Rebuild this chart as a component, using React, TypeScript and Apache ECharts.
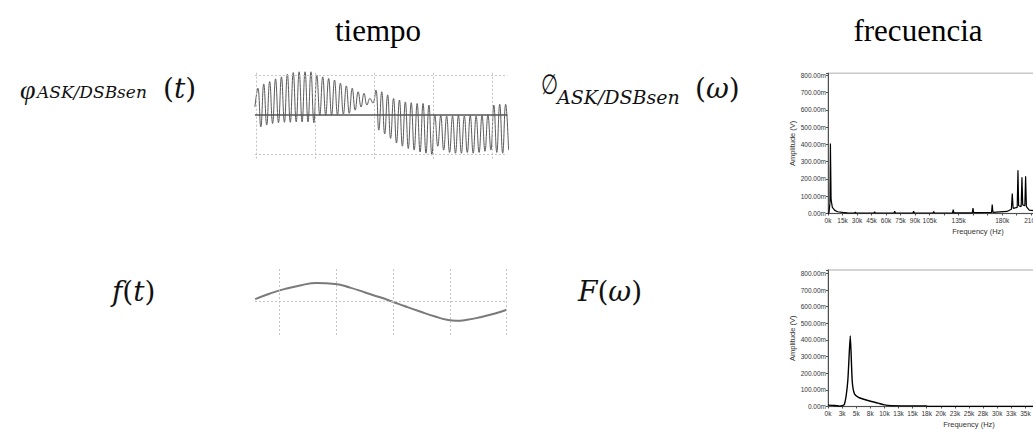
import React, { useEffect, useRef } from 'react';
import * as echarts from 'echarts';

// ---- time domain: modulated signal (one peak + one trough per carrier cycle, 10 cycles per division)
const CYCLES_PER_DIV = 10;
const askStart = 0.2;
const askPeaks = [
  0.68, 0.79, 0.85, 0.92, 0.97, 1.04, 1.08, 1.1, 1.1, 1.1,
  1.02, 0.97, 0.93, 0.89, 0.81, 0.74, 0.68, 0.59, 0.55, 0.42,
  0.63, 0.59, 0.51, 0.42, 0.38, 0.33, 0.31, 0.29, 0.29, 0.25,
  0.0, -0.02, -0.03, -0.03, -0.02, -0.03, -0.02, -0.03, -0.02, 0.0,
  0.25, 0.27, 0.27,
];
const askTroughs = [
  -0.31, -0.26, -0.22, -0.2, -0.19, -0.19, -0.18, -0.18, -0.18, -0.2,
  -0.01, -0.01, -0.01, 0.0, 0.02, 0.04, 0.12, 0.2, 0.25, 0.3,
  -0.39, -0.49, -0.6, -0.72, -0.8, -0.86, -0.9, -0.95, -0.98, -1.03,
  -0.8, -0.9, -0.96, -0.98, -0.98, -0.96, -0.98, -0.96, -0.93, -0.9,
  -0.96, -0.98, -0.9,
];

// ---- time domain: message f(t)
const msgT = [-0.427, -0.164, 0.1, 0.364, 0.658, 0.98, 1.244, 1.508, 1.772, 1.982, 2.211, 2.475, 2.74, 2.951, 3.109, 3.303, 3.531, 3.795, 4.0];
const msgV = [0.072, 0.239, 0.376, 0.48, 0.555, 0.525, 0.415, 0.27, 0.125, 0.0, -0.143, -0.3, -0.448, -0.546, -0.576, -0.546, -0.472, -0.36, -0.248];

// ---- frequency domain: modulated spectrum (kHz, mV)
const specTopF = [0, 1, 2, 2.5, 3.2, 4.5, 7, 10, 15, 20, 27.5, 28.2, 29, 47.5, 48.2, 49, 68.2, 68.9, 69.6, 87.8, 88.5, 89.2, 108.5, 109.2, 110, 128.7, 129.4, 130.1, 149.1, 149.8, 150.5, 169, 169.7, 170.4, 185, 189.5, 190.4, 191.3, 195.5, 196.3, 197, 199.6, 200.4, 201.2, 203.4, 204.2, 205, 208, 215, 230, 260, 310];
const specTopA = [0, 5, 60, 405, 80, 35, 18, 10, 6, 4, 3, 8, 3, 3, 10, 3, 3, 14, 3, 3, 14, 3, 3, 12, 3, 4, 22, 4, 4, 32, 5, 6, 52, 7, 12, 25, 115, 30, 35, 250, 45, 40, 210, 50, 45, 215, 40, 20, 15, 8, 6, 5];

// ---- frequency domain: message spectrum (kHz, mV)
const specBotF = [0, 1.2, 2.1, 2.9, 3.5, 3.95, 4.3, 4.7, 5.4, 6.2, 7.7, 8.9, 10, 11.2, 14, 17.4, 17.7, 25, 50];
const specBotA = [8, 6, 2, 12, 150, 425, 150, 75, 55, 45, 30, 20, 10, 5, 4, 4, 1, 1, 1];

const ampTicks = [0, 100, 200, 300, 400, 500, 600, 700, 800];
const topFreqLabels = [0, 15, 30, 45, 60, 75, 90, 105, 135, 180, 210];
const botFreqLabelMax = 35;

const dotted = { color: '#c4c4c4', type: [2, 2] as any, width: 1 };

function vLines(vals: number[]) {
  return vals.map((v) => ({ xAxis: v, lineStyle: dotted }));
}

const sansFont = '"Liberation Sans", Arial, sans-serif';

function specX(gridIndex: number, max: number, interval: number, fmt: (v: number) => string) {
  return {
    gridIndex, type: 'value', min: 0, max, interval,
    axisLine: { show: true, lineStyle: { color: '#505050', width: 1 } },
    axisTick: { show: true, length: 2, lineStyle: { color: '#505050' } },
    axisLabel: { fontSize: 6.5, color: '#333', margin: 3, fontFamily: sansFont, formatter: fmt, hideOverlap: false },
    splitLine: { show: false },
    name: 'Frequency (Hz)', nameLocation: 'middle', nameGap: 14,
    nameTextStyle: { fontSize: 7.5, color: '#333', fontFamily: sansFont },
  };
}
function specY(gridIndex: number, max: number) {
  return {
    gridIndex, type: 'value', min: 0, max, interval: 100,
    axisLine: { show: true, lineStyle: { color: '#505050', width: 1 } },
    axisTick: { show: true, length: 2, lineStyle: { color: '#505050' } },
    axisLabel: {
      fontSize: 6.5, color: '#333', margin: 2, fontFamily: sansFont,
      formatter: (v: number) => (ampTicks.includes(Math.round(v)) && Math.abs(v - Math.round(v)) < 1e-6 ? v.toFixed(2) + 'm' : ''),
    },
    splitLine: { show: false },
    name: 'Amplitude (V)', nameLocation: 'middle', nameGap: 30,
    nameTextStyle: { fontSize: 7.5, color: '#333', fontFamily: sansFont },
  };
}

function mathText(x: number, y: number, parts: { t: string; s: string }[], size: number, extra: any = {}) {
  const rich: any = {
    i: { font: `italic ${size}px "DejaVu Serif"`, fill: '#111' },
    u: { font: `${size}px "DejaVu Serif"`, fill: '#111' },
    t: { font: `italic ${size}px "Liberation Serif"`, fill: '#111' },
  };
  return {
    type: 'text', x, y, silent: true, ...extra,
    style: {
      text: parts.map((p) => `{${p.s}|${p.t}}`).join(''),
      rich, textAlign: 'left', textVerticalAlign: 'middle', font: `${size}px "DejaVu Serif"`, fill: '#111',
    },
  };
}

export default function App() {
  const ref = useRef<HTMLDivElement>(null);
  useEffect(() => {
    if (!ref.current) return;
    const chart = echarts.init(ref.current, null, { renderer: 'svg' });

    const askData: number[][] = [[-0.03, askStart]];
    askPeaks.forEach((p, i) => {
      askData.push([(i + 0.2) / CYCLES_PER_DIV, p]);
      askData.push([(i + 0.7) / CYCLES_PER_DIV, askTroughs[i]]);
    });
    const msgData = msgT.map((t, i) => [t, msgV[i]]);
    const topData = specTopF.map((f, i) => [f, specTopA[i]]);
    const botData = specBotF.map((f, i) => [f, specBotA[i]]);

    const option: any = {
      animation: false,
      grid: [
        { left: 254.9, top: 71, width: 252.5, height: 87.7, outerBoundsMode: 'none' },
        { left: 255, top: 268, width: 251.7, height: 67, outerBoundsMode: 'none' },
        { left: 828, top: 73.3, width: 300, height: 140.2, show: true, borderColor: '#c8c8c8', borderWidth: 1.5, backgroundColor: 'transparent', outerBoundsMode: 'none' },
        { left: 828, top: 270, width: 282, height: 136.5, show: true, borderColor: '#c8c8c8', borderWidth: 1.5, backgroundColor: 'transparent', outerBoundsMode: 'none' },
      ],
      xAxis: [
        { gridIndex: 0, type: 'value', min: -0.03, max: 4.25, show: false, splitLine: { show: false } },
        { gridIndex: 1, type: 'value', min: -0.43, max: 4.0, show: false, splitLine: { show: false } },
        specX(2, 310, 15, (v: number) => (topFreqLabels.includes(Math.round(v)) ? Math.round(v) + 'k' : '')),
        specX(3, 50, 2.5, (v: number) => (v <= botFreqLabelMax ? Math.round(v) + 'k' : '')),
      ],
      yAxis: [
        { gridIndex: 0, type: 'value', min: -1.12, max: 1.12, show: false, splitLine: { show: false } },
        { gridIndex: 1, type: 'value', min: -1, max: 1, show: false, splitLine: { show: false } },
        specY(2, 811),
        specY(3, 821),
      ],
      series: [
        {
          type: 'line', xAxisIndex: 0, yAxisIndex: 0, data: askData, symbol: 'none', smooth: 0.45,
          lineStyle: { color: '#5a5a5a', width: 1 }, z: 3,
          markLine: {
            silent: true, symbol: 'none', label: { show: false },
            data: [
              ...vLines([0, 1, 2, 3, 4]),
              { yAxis: 1, lineStyle: dotted },
              { yAxis: -1, lineStyle: dotted },
              { yAxis: 0, lineStyle: { color: '#555', width: 1.6, type: 'solid' } },
            ],
          },
        },
        {
          type: 'line', xAxisIndex: 1, yAxisIndex: 1, data: msgData, symbol: 'none', smooth: 0.5,
          lineStyle: { color: '#7a7a7a', width: 2 },
          markLine: {
            silent: true, symbol: 'none', label: { show: false },
            data: [...vLines([0, 1, 2, 3, 4]), { yAxis: 0, lineStyle: dotted }],
          },
        },
        {
          type: 'line', xAxisIndex: 2, yAxisIndex: 2, data: topData, symbol: 'none',
          lineStyle: { color: '#000', width: 1.2 },
        },
        {
          type: 'line', xAxisIndex: 3, yAxisIndex: 3, data: botData, symbol: 'none', smooth: 0.2,
          lineStyle: { color: '#000', width: 1.4 },
        },
      ],
      graphic: [
        { type: 'text', x: 378, y: 30, silent: true, style: { text: 'tiempo', font: '31px "Liberation Serif"', fill: '#000', textAlign: 'center', textVerticalAlign: 'middle' } },
        { type: 'text', x: 918, y: 30, silent: true, style: { text: 'frecuencia', font: '31px "Liberation Serif"', fill: '#000', textAlign: 'center', textVerticalAlign: 'middle' } },
        mathText(20, 89, [{ t: 'φ', s: 't' }], 28),
        mathText(37, 92, [{ t: 'ASK/DSBsen', s: 'i' }], 17),
        mathText(163, 88, [{ t: '(', s: 'u' }, { t: 't', s: 'i' }, { t: ')', s: 'u' }], 28),
        mathText(541, 85, [{ t: '∅', s: 'u' }], 28, { scaleX: 0.7 }),
        mathText(557, 97, [{ t: 'ASK/DSBsen', s: 'i' }], 19),
        mathText(695, 88, [{ t: '(', s: 'u' }, { t: 'ω', s: 'i' }, { t: ')', s: 'u' }], 28),
        mathText(112, 291, [{ t: 'f', s: 'i' }, { t: '(', s: 'u' }, { t: 't', s: 'i' }, { t: ')', s: 'u' }], 28),
        mathText(578, 291, [{ t: 'F', s: 'i' }, { t: '(', s: 'u' }, { t: 'ω', s: 'i' }, { t: ')', s: 'u' }], 28),
      ],
    };
    chart.setOption(option);
    return () => chart.dispose();
  }, []);
  return <div ref={ref} style={{ position: 'fixed', left: 0, top: 0, width: 1200, height: 429, background: '#fff' }} />;
}
